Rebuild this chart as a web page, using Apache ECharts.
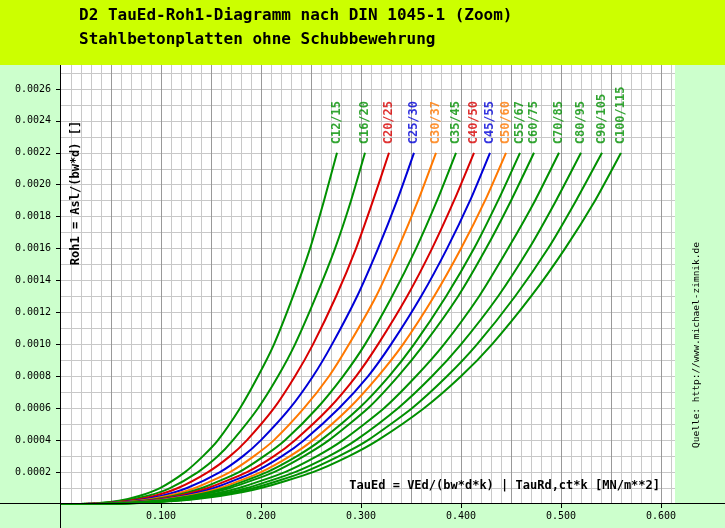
<!DOCTYPE html>
<html><head><meta charset="utf-8">
<script src="https://cdn.jsdelivr.net/npm/echarts@6/dist/echarts.min.js"></script>
<style>html,body{margin:0;padding:0;background:#ccffcc}#c{width:725px;height:528px}</style>
</head><body><div id="c"></div>
<script>
// Reinforcement ratio Roh1 (y) shared by all curves
const rho = [0, 0.000001, 0.000005, 0.00002, 0.00005, 0.0001, 0.0002, 0.0003, 0.0004, 0.0006, 0.0008, 0.0010, 0.0013, 0.0016, 0.0019, 0.0022];
const grades = ['C12/15','C16/20','C20/25','C25/30','C30/37','C35/45','C40/50','C45/55','C50/60','C55/67','C60/75','C70/85','C80/95','C90/105','C100/115'];
// TauEd (x) per concrete grade, one value per rho entry
const tauC12  = [0, 0.021, 0.036, 0.058, 0.078, 0.099, 0.124, 0.142, 0.157, 0.179, 0.197, 0.213, 0.232, 0.249, 0.263, 0.276];
const tauC16  = [0, 0.023, 0.040, 0.063, 0.086, 0.109, 0.137, 0.157, 0.172, 0.197, 0.217, 0.234, 0.255, 0.274, 0.290, 0.304];
const tauC20  = [0, 0.025, 0.043, 0.068, 0.093, 0.117, 0.147, 0.169, 0.186, 0.213, 0.234, 0.252, 0.275, 0.295, 0.312, 0.328];
const tauC25  = [0, 0.027, 0.046, 0.074, 0.100, 0.126, 0.159, 0.182, 0.200, 0.229, 0.252, 0.271, 0.296, 0.317, 0.336, 0.353];
const tauC30  = [0, 0.029, 0.049, 0.078, 0.106, 0.134, 0.169, 0.193, 0.213, 0.243, 0.268, 0.288, 0.315, 0.337, 0.357, 0.375];
const tauC35  = [0, 0.030, 0.052, 0.082, 0.112, 0.141, 0.178, 0.203, 0.224, 0.256, 0.282, 0.304, 0.331, 0.355, 0.376, 0.395];
const tauC40  = [0, 0.032, 0.054, 0.086, 0.117, 0.147, 0.186, 0.213, 0.234, 0.268, 0.295, 0.317, 0.346, 0.371, 0.393, 0.413];
const tauC45  = [0, 0.033, 0.056, 0.090, 0.122, 0.153, 0.193, 0.221, 0.243, 0.278, 0.307, 0.330, 0.360, 0.386, 0.409, 0.429];
const tauC50  = [0, 0.034, 0.058, 0.093, 0.126, 0.159, 0.200, 0.229, 0.252, 0.288, 0.317, 0.342, 0.373, 0.400, 0.424, 0.445];
const tauC55  = [0, 0.035, 0.060, 0.096, 0.130, 0.164, 0.206, 0.236, 0.260, 0.298, 0.328, 0.353, 0.385, 0.413, 0.437, 0.459];
const tauC60  = [0, 0.036, 0.062, 0.099, 0.134, 0.169, 0.213, 0.243, 0.268, 0.307, 0.337, 0.363, 0.397, 0.425, 0.450, 0.473];
const tauC70  = [0, 0.038, 0.065, 0.104, 0.141, 0.178, 0.224, 0.256, 0.282, 0.323, 0.355, 0.383, 0.418, 0.447, 0.474, 0.498];
const tauC80  = [0, 0.040, 0.068, 0.109, 0.147, 0.186, 0.234, 0.268, 0.295, 0.337, 0.371, 0.400, 0.437, 0.468, 0.495, 0.520];
const tauC90  = [0, 0.042, 0.071, 0.113, 0.153, 0.193, 0.243, 0.278, 0.307, 0.351, 0.386, 0.416, 0.454, 0.487, 0.515, 0.541];
const tauC100 = [0, 0.043, 0.074, 0.117, 0.159, 0.200, 0.252, 0.288, 0.317, 0.363, 0.400, 0.431, 0.470, 0.504, 0.534, 0.560];
const xTicks = [0.1, 0.2, 0.3, 0.4, 0.5, 0.6];
const yTicks = [0.0002, 0.0004, 0.0006, 0.0008, 0.0010, 0.0012, 0.0014, 0.0016, 0.0018, 0.0020, 0.0022, 0.0024, 0.0026];

const tauByGrade = [tauC12, tauC16, tauC20, tauC25, tauC30, tauC35, tauC40, tauC45, tauC50, tauC55, tauC60, tauC70, tauC80, tauC90, tauC100];
const G = '#009000', R = '#d80000', B = '#0000d8', O = '#ff7800';
const gradeColors = [G, G, R, B, O, G, R, B, O, G, G, G, G, G, G];
const MONO = 'DejaVu Sans Mono';
const X_MAX = 0.614, Y_MAX = 0.00275;

const series = tauByGrade.map((tau, i) => ({
  type: 'line',
  name: grades[i],
  xAxisIndex: 0, yAxisIndex: 0,
  data: rho.map((r, j) => [tau[j], r]),
  showSymbol: false,
  symbol: 'none',
  smooth: 0.2,
  lineStyle: { color: gradeColors[i], width: 2 },
  itemStyle: { color: gradeColors[i] },
  animation: false,
  z: 3
}));
series.push({
  type: 'scatter',
  xAxisIndex: 0, yAxisIndex: 0,
  symbolSize: 1,
  itemStyle: { color: 'transparent' },
  animation: false,
  z: 4,
  data: tauByGrade.map((tau, i) => ({
    value: [tau[tau.length - 1], rho[rho.length - 1]],
    name: grades[i],
    label: { color: gradeColors[i] }
  })),
  label: {
    show: true, position: 'top', distance: 8, rotate: 90,
    align: 'left', verticalAlign: 'middle',
    formatter: p => p.name,
    fontFamily: MONO, fontSize: 12, fontWeight: 'bold'
  }
});

const hidden = { axisLine: { show: false }, axisTick: { show: false }, axisLabel: { show: false } };

const chart = echarts.init(document.getElementById('c'), null, { renderer: 'canvas' });
chart.setOption({
  backgroundColor: '#ccffcc',
  animation: false,
  title: [
    { text: 'D2 TauEd-Roh1-Diagramm nach DIN 1045-1 (Zoom)', left: 79, top: 8, padding: 0,
      textStyle: { fontFamily: MONO, fontSize: 16, fontWeight: 'bold', color: '#000' } },
    { text: 'Stahlbetonplatten ohne Schubbewehrung', left: 79, top: 32, padding: 0,
      textStyle: { fontFamily: MONO, fontSize: 16, fontWeight: 'bold', color: '#000' } }
  ],
  grid: { left: 61, right: 50, top: 65, bottom: 24, show: true, backgroundColor: '#ffffff', borderWidth: 0, containLabel: false },
  xAxis: [
    { type: 'value', min: 0, max: X_MAX, position: 'bottom',
      axisLine: { show: false },
      axisTick: { show: true, customValues: xTicks, length: 4, lineStyle: { color: '#000' } },
      axisLabel: { show: true, customValues: xTicks, formatter: v => v.toFixed(3), margin: 7,
        fontFamily: MONO, fontSize: 10, color: '#000' },
      splitLine: { show: false } },
    Object.assign({ type: 'value', min: 0, max: X_MAX, interval: 0.01, position: 'bottom',
      splitLine: { show: true, showMinLine: false, showMaxLine: false, lineStyle: { color: '#c8c8c8', width: 1 } } }, hidden),
    Object.assign({ type: 'value', min: 0, max: X_MAX, interval: 0.05, position: 'bottom',
      splitLine: { show: true, showMinLine: false, showMaxLine: false, lineStyle: { color: '#999999', width: 1 } } }, hidden)
  ],
  yAxis: [
    { type: 'value', min: 0, max: Y_MAX, position: 'left',
      axisLine: { show: false },
      axisTick: { show: true, customValues: yTicks, length: 5, lineStyle: { color: '#000' } },
      axisLabel: { show: true, customValues: yTicks, formatter: v => v.toFixed(4), margin: 10,
        fontFamily: MONO, fontSize: 10, color: '#000' },
      splitLine: { show: false } },
    Object.assign({ type: 'value', min: 0, max: Y_MAX, interval: 0.0001, position: 'left',
      splitLine: { show: true, showMinLine: false, showMaxLine: false, lineStyle: { color: '#c8c8c8', width: 1 } } }, hidden)
  ],
  graphic: [
    { type: 'rect', z: -1, shape: { x: 0, y: 0, width: 725, height: 65 }, style: { fill: '#ccff00' } },
    { type: 'line', z: 10, shape: { x1: 60.5, y1: 65, x2: 60.5, y2: 528 }, style: { stroke: '#000', lineWidth: 1 } },
    { type: 'line', z: 10, shape: { x1: 0, y1: 503.5, x2: 725, y2: 503.5 }, style: { stroke: '#000', lineWidth: 1 } },
    { type: 'text', z: 10, x: 660, y: 486,
      style: { text: 'TauEd = VEd/(bw*d*k) | TauRd,ct*k [MN/m**2]', font: 'bold 12px "DejaVu Sans Mono"',
        fill: '#000', textAlign: 'right', textVerticalAlign: 'middle' } },
    { type: 'text', z: 10, x: 76, y: 193, rotation: Math.PI / 2,
      style: { text: 'Roh1 = Asl/(bw*d) []', font: 'bold 12px "DejaVu Sans Mono"',
        fill: '#000', textAlign: 'center', textVerticalAlign: 'middle' } },
    { type: 'text', z: 10, x: 697, y: 345, rotation: Math.PI / 2,
      style: { text: 'Quelle: http://www.michael-zimnik.de', font: '9.5px "DejaVu Sans Mono"',
        fill: '#000', textAlign: 'center', textVerticalAlign: 'middle' } }
  ],
  series: series
});
</script></body></html>
